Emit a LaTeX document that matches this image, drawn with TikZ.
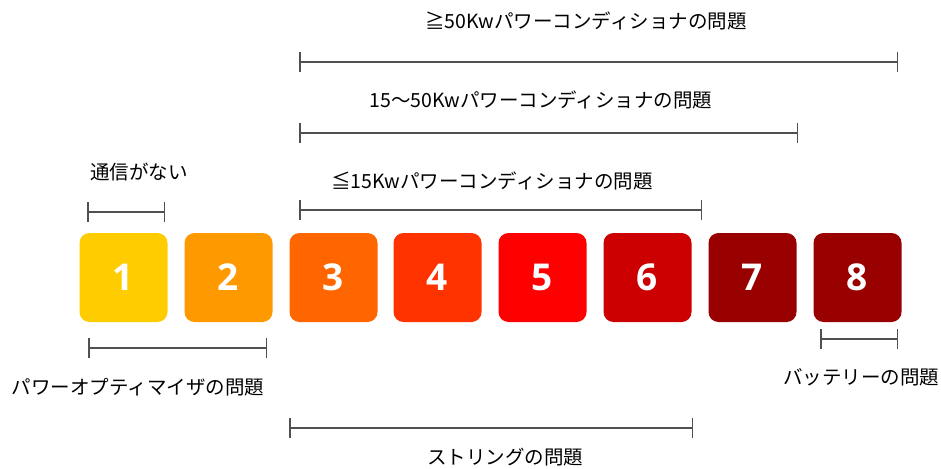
\documentclass[tikz,border=0pt]{standalone}
\usepackage{fontspec}
\newfontfamily\jp{Noto Sans CJK JP}
\newfontfamily\numf{Open Sans}
\usetikzlibrary{arrows.meta}
\definecolor{c1}{HTML}{FFCC00}
\definecolor{c2}{HTML}{FF9900}
\definecolor{c3}{HTML}{FF6600}
\definecolor{c4}{HTML}{FF3300}
\definecolor{c5}{HTML}{FF0000}
\definecolor{c6}{HTML}{CC0000}
\definecolor{c7}{HTML}{990000}
\definecolor{c8}{HTML}{990000}
\definecolor{lc}{HTML}{505050}
\begin{document}
\begin{tikzpicture}[x=1pt,y=-1pt,
  sq/.style={rounded corners=10pt, minimum width=88pt, minimum height=89pt, inner sep=0pt,
    font=\numf\bfseries\fontsize{37}{40}\selectfont, text=white},
  lbl/.style={anchor=base, inner sep=0pt, font=\jp\fontsize{19.5}{22}\selectfont, text=black},
  rng/.style={draw=lc, line width=1.5pt, {Bar[width=20pt]}-{Bar[width=20pt]}}]
\useasboundingbox (0,0) rectangle (941,468);
% squares
\node[sq, fill=c1] (s1) at (123.5,277.5) {1};
\node[sq, fill=c2] (s2) at (228.5,277.5) {2};
\node[sq, fill=c3] (s3) at (333.5,277.5) {3};
\node[sq, fill=c4] (s4) at (437.5,277.5) {4};
\node[sq, fill=c5] (s5) at (542.5,277.5) {5};
\node[sq, fill=c6] (s6) at (647.5,277.5) {6};
\node[sq, fill=c7] (s7) at (752.5,277.5) {7};
\node[sq, fill=c8] (s8) at (857.5,277.5) {8};
% range end points
\coordinate (a1) at (299,62);  \coordinate (a2) at (898,62);
\coordinate (b1) at (299,133); \coordinate (b2) at (798,133);
\coordinate (c1) at (299,210); \coordinate (c2) at (702,210);
\coordinate (d1) at (87,212);  \coordinate (d2) at (165,212);
\coordinate (e1) at (88,348);  \coordinate (e2) at (267,348);
\coordinate (f1) at (289,428); \coordinate (f2) at (693,428);
\coordinate (g1) at (820,339); \coordinate (g2) at (898,339);
\draw[rng] (a1) -- (a2);
\draw[rng] (b1) -- (b2);
\draw[rng] (c1) -- (c2);
\draw[rng] (d1) -- (d2);
\draw[rng] (e1) -- (e2);
\draw[rng] (f1) -- (f2);
\draw[rng] (g1) -- (g2);
% labels
\node[lbl] (t1) at (586,29) {≧50Kwパワーコンディショナの問題};
\node[lbl] (t2) at (541,108) {15～50Kwパワーコンディショナの問題};
\node[lbl] (t3) at (492,188) {≦15Kwパワーコンディショナの問題};
\node[lbl] (t4) at (139,179) {通信がない};
\node[lbl] (t5) at (138,394) {パワーオプティマイザの問題};
\node[lbl] (t6) at (505,464) {ストリングの問題};
\node[lbl] (t7) at (861,384) {バッテリーの問題};
\end{tikzpicture}
\end{document}
